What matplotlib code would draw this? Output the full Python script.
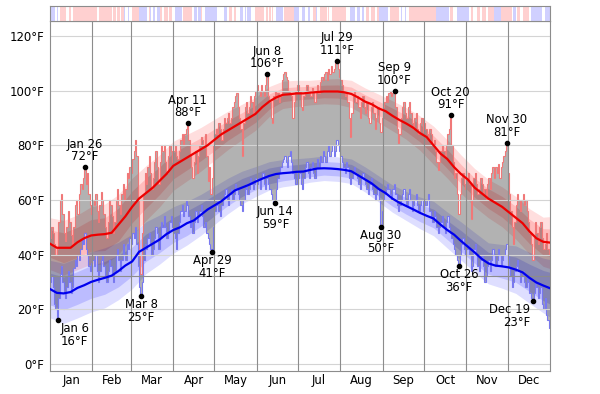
import datetime
import numpy as np
import matplotlib.pyplot as plt
from matplotlib.colors import to_rgb

plt.rcParams['font.family'] = ['DejaVu Sans']

MONTHS = ["Jan", "Feb", "Mar", "Apr", "May", "Jun",
          "Jul", "Aug", "Sep", "Oct", "Nov", "Dec"]
MONTH_DAYS = [31, 28, 31, 30, 31, 30, 31, 31, 30, 31, 30, 31]

# daily observed highs (deg F), one list line per month
HIGHS = [
    46, 50, 48, 44, 40, 42, 52, 60, 62, 55, 48, 45, 50, 56, 52, 47, 44, 50, 58, 60, 55, 62, 66, 64, 68, 72, 66, 70, 62, 58, 55,
    60, 58, 62, 56, 52, 58, 63, 60, 55, 50, 46, 52, 60, 58, 54, 48, 52, 60, 64, 58, 55, 62, 66, 60, 64, 70, 68, 72,
    70, 75, 78, 82, 76, 60, 40, 33, 48, 62, 70, 66, 72, 76, 70, 64, 68, 74, 78, 72, 66, 74, 80, 78, 80, 74, 70, 76, 80, 78, 74,
    78, 80, 76, 75, 78, 82, 84, 80, 84, 86, 88, 82, 76, 72, 68, 74, 78, 70, 76, 80, 83, 82, 80, 84, 76, 67, 72, 62, 68, 80,
    84, 86, 84, 88, 86, 82, 86, 90, 88, 90, 92, 88, 90, 94, 96, 98, 99, 94, 90, 86, 76, 88, 94, 96, 92, 94, 98, 96, 92, 98, 100,
    102, 100, 98, 102, 100, 98, 102, 106, 98, 96, 90, 88, 98, 100, 97, 99, 96, 98, 104, 106, 107, 105, 104, 100, 99, 98, 90, 96, 100, 102,
    102, 100, 94, 93, 98, 100, 102, 99, 100, 98, 101, 100, 96, 100, 102, 99, 103, 105, 104, 106, 107, 104, 108, 106, 109, 107, 108, 110, 111, 108, 105,
    104, 102, 100, 98, 100, 96, 90, 83, 92, 98, 100, 96, 98, 94, 90, 96, 98, 94, 92, 96, 90, 88, 94, 96, 92, 86, 90, 94, 88, 85, 90,
    94, 96, 98, 96, 99, 100, 98, 99, 100, 94, 86, 81, 84, 90, 94, 96, 92, 90, 94, 96, 92, 88, 86, 90, 92, 86, 84, 88, 90, 85,
    88, 86, 84, 82, 86, 84, 80, 82, 78, 74, 71, 74, 78, 80, 78, 76, 80, 84, 86, 91, 80, 74, 68, 70, 62, 55, 62, 68, 70, 66, 64,
    68, 70, 66, 53, 60, 68, 70, 66, 62, 64, 68, 66, 62, 64, 60, 66, 68, 64, 70, 72, 68, 72, 70, 73, 68, 72, 74, 76, 78, 81,
    70, 62, 56, 50, 44, 52, 58, 62, 60, 56, 60, 62, 58, 60, 56, 52, 48, 44, 38, 46, 52, 48, 44, 50, 52, 46, 42, 44, 48, 42, 40,
]

# daily observed lows (deg F)
LOWS = [
    30, 32, 28, 22, 20, 16, 24, 33, 36, 30, 26, 24, 28, 34, 30, 26, 28, 35, 38, 36, 40, 38, 42, 46, 44, 48, 42, 40, 36, 34, 37,
    38, 36, 40, 34, 30, 34, 38, 40, 36, 32, 30, 34, 38, 36, 33, 30, 34, 40, 42, 38, 34, 38, 44, 40, 38, 44, 42, 46,
    44, 48, 46, 50, 44, 36, 28, 25, 30, 38, 44, 42, 46, 48, 44, 40, 42, 46, 50, 48, 42, 46, 52, 50, 54, 50, 46, 48, 52, 54, 50,
    48, 46, 42, 48, 52, 56, 58, 54, 56, 60, 58, 54, 50, 52, 48, 52, 56, 52, 54, 56, 58, 54, 50, 52, 48, 46, 44, 42, 41, 50,
    56, 58, 60, 56, 54, 58, 60, 62, 64, 60, 58, 62, 64, 60, 62, 66, 64, 62, 60, 58, 56, 60, 64, 66, 62, 64, 68, 66, 64, 66, 68,
    66, 68, 64, 68, 70, 66, 64, 68, 66, 64, 62, 60, 59, 59, 64, 68, 70, 72, 74, 75, 76, 74, 72, 76, 78, 74, 70, 68, 66, 70,
    68, 70, 66, 64, 68, 72, 74, 70, 68, 72, 74, 70, 68, 72, 75, 72, 76, 74, 78, 76, 74, 78, 80, 76, 78, 80, 76, 78, 82, 80, 78,
    76, 74, 72, 70, 74, 72, 68, 66, 68, 70, 72, 70, 68, 66, 64, 68, 70, 68, 66, 64, 62, 66, 68, 64, 62, 60, 62, 64, 60, 50, 56,
    60, 62, 64, 66, 64, 62, 60, 64, 66, 62, 58, 56, 58, 60, 62, 64, 60, 58, 62, 64, 60, 56, 58, 60, 62, 58, 56, 58, 60, 56,
    60, 58, 60, 62, 56, 54, 52, 56, 54, 50, 48, 50, 52, 54, 50, 48, 52, 54, 50, 48, 46, 44, 42, 40, 38, 36, 40, 44, 46, 42, 40,
    42, 44, 40, 34, 36, 42, 44, 40, 36, 34, 38, 40, 36, 30, 32, 36, 38, 34, 38, 42, 40, 36, 38, 42, 40, 36, 38, 40, 42, 44,
    40, 36, 32, 28, 30, 34, 36, 38, 34, 30, 32, 34, 30, 28, 32, 30, 26, 24, 23, 26, 30, 28, 24, 26, 28, 22, 20, 24, 18, 16, 13,
]

# average daily high / low, every 5 days
NORM_DAYS = list(range(0, 361, 5)) + [365]
NORMAL_HI = [44, 42.5, 42.5, 42.5, 44.5, 46, 47, 47.3, 47.5, 48, 51, 54, 57.5, 60.5, 62.5,
             64.5, 67, 69.5, 72.5, 74, 75.5, 77, 78.5, 80, 82, 84, 85.5, 87, 88.5, 90,
             91.5, 94, 96, 97.5, 98.5, 98.7, 99, 99, 99.3, 99.5, 99.7, 99.7, 99.7, 99.4,
             98.8, 97.5, 96, 95, 93.5, 92.5, 90.8, 89.3, 88, 86.5, 84.5, 83, 80, 77, 75,
             72, 69.5, 67.5, 64.5, 62.5, 60.5, 59, 57.5, 55.5, 53.5, 51.5, 48.5, 46, 44.7, 44.4]
NORMAL_LO = [27.4, 26, 25.8, 26.3, 27.8, 28.8, 30, 30.8, 31.5, 32.3, 34, 36, 37.5, 41, 42.5,
             44, 45.5, 47.5, 49, 50, 51.5, 52.5, 54.5, 56.5, 58, 59.5, 61.5, 63.5, 64.5,
             65.5, 66.7, 67.8, 68.8, 69.5, 69.8, 70, 70.3, 70.4, 71, 71.5, 71.6, 71.5, 71.3,
             71, 70.5, 69, 67.5, 66, 64, 62.5, 60.5, 59, 57.8, 56.6, 55.3, 54.2, 53.2, 51,
             49, 47.3, 45, 42.9, 40.8, 38.5, 36.8, 36, 35.7, 35.3, 34.5, 33.5, 31.5, 29.8,
             28.7, 27.7]

# percentile band half widths (10-90 outer, 25-75 inner), every 10 days
BAND_DAYS = list(range(0, 361, 10)) + [365]
HI_OUTER = [9.5, 10, 10, 10.5, 11, 11, 10.5, 10, 9.5, 9, 8.5, 8, 7.5, 7, 6.5, 6, 5.5, 5, 4.8,
            4.5, 4.5, 4.7, 5, 5, 5.2, 5.5, 5.8, 6.3, 7, 7, 7, 7, 7, 7.3, 7.8, 8.3, 9, 9.5]
HI_INNER = [5, 5.5, 5.5, 5.8, 6, 6, 5.8, 5.5, 5, 4.8, 4.5, 4.2, 4, 3.6, 3.4, 3.1, 2.8, 2.5, 2.4,
            2.3, 2.3, 2.4, 2.5, 2.5, 2.6, 2.8, 3, 3.2, 3.5, 3.5, 3.5, 3.5, 3.6, 3.8, 4.2, 4.5, 4.8, 5]
LO_OUTER = [10.5, 11, 11, 11, 11, 10.5, 10, 9.5, 9, 8.5, 8, 7.5, 7, 6.5, 6, 5.5, 5.2, 5, 4.8,
            4.5, 4.5, 4.5, 4.5, 4.6, 4.8, 5, 5.3, 5.8, 6.3, 6.6, 7, 7.3, 7.5, 8, 8.7, 9.3, 10, 10.5]
LO_INNER = [5.8, 6, 6, 6, 6, 5.8, 5.3, 5, 4.8, 4.6, 4.5, 4.2, 3.8, 3.5, 3.3, 3, 2.9, 2.8, 2.6,
            2.5, 2.5, 2.5, 2.5, 2.5, 2.7, 2.8, 3, 3.2, 3.4, 3.5, 3.8, 4, 4, 4.3, 4.6, 5, 5.5, 5.8]

RECORD_HIGH_DATES = ["Jan 26", "Apr 11", "Jun 8", "Jul 29", "Sep 9", "Oct 20", "Nov 30"]
RECORD_LOW_DATES = ["Jan 6", "Mar 8", "Apr 29", "Jun 14", "Aug 30", "Oct 26", "Dec 19"]

# top strip: r = warmer than normal, b = colder, w = near normal (runs of days)
STRIP_RUNS = [
    ("b", 4), ("w", 1), ("b", 1), ("w", 1), ("r", 5), ("w", 2), ("r", 1), ("w", 2), ("r", 17),
    ("w", 2), ("r", 9), ("w", 1), ("r", 2), ("w", 1), ("r", 2), ("w", 1), ("r", 2), ("b", 1),
    ("w", 2), ("b", 1), ("w", 2), ("r", 5), ("b", 6), ("w", 1), ("r", 1), ("b", 1), ("w", 1),
    ("b", 2), ("w", 1), ("b", 2), ("r", 2), ("w", 1), ("r", 3), ("w", 1), ("r", 2), ("w", 2),
    ("b", 5), ("w", 1), ("r", 7), ("w", 1), ("b", 2), ("w", 1), ("b", 2), ("r", 1), ("w", 2),
    ("b", 9), ("w", 5), ("b", 2), ("w", 2), ("r", 2), ("w", 1), ("r", 2), ("w", 3), ("b", 2),
    ("w", 1), ("b", 1), ("w", 1), ("b", 3), ("w", 3), ("r", 6), ("w", 2), ("r", 1), ("w", 1),
    ("r", 1), ("w", 1), ("r", 1), ("w", 2), ("b", 5), ("w", 1), ("r", 7), ("b", 4), ("w", 2),
    ("b", 2), ("w", 2), ("b", 2), ("w", 2), ("r", 2), ("b", 1), ("w", 2), ("r", 5), ("w", 1),
    ("r", 1), ("w", 2), ("r", 10), ("w", 3), ("b", 4), ("w", 1), ("b", 2), ("w", 2), ("b", 1),
    ("w", 2), ("r", 2), ("w", 1), ("r", 3), ("w", 2), ("r", 1), ("b", 7), ("w", 1), ("r", 7),
    ("w", 1), ("b", 1), ("w", 2), ("b", 1), ("w", 2), ("r", 20), ("b", 9), ("w", 1), ("r", 2),
    ("w", 3), ("b", 9), ("w", 1), ("r", 2), ("w", 3), ("r", 2), ("w", 1), ("r", 3), ("w", 2),
    ("r", 4), ("b", 5), ("r", 8), ("w", 1), ("b", 2), ("w", 1), ("r", 2), ("w", 2), ("r", 5),
    ("w", 1), ("b", 8), ("w", 2), ("b", 4),
]
STRIP_COLORS = {"r": "#ffd0d0", "b": "#d0d0ff", "w": "#ffffff"}

GRID_GRAY = "#8c8c8c"
FS = 8.4


def day_index(label):
    return datetime.datetime.strptime(label + " 2001", "%b %d %Y").timetuple().tm_yday - 1


month_starts = np.concatenate([[0], np.cumsum(MONTH_DAYS)])
month_mids = month_starts[:-1] + np.array(MONTH_DAYS) / 2

fig = plt.figure(figsize=(6, 3.94), dpi=100)
ax = fig.add_axes([50 / 600, 23 / 394, 500 / 600, 350 / 394])
strip = fig.add_axes([50 / 600, 373 / 394, 500 / 600, 15 / 394])

# percentile bands
norm_hi = dict(zip(NORM_DAYS, NORMAL_HI))
norm_lo = dict(zip(NORM_DAYS, NORMAL_LO))
bh = np.array([norm_hi[d] for d in BAND_DAYS])
bl = np.array([norm_lo[d] for d in BAND_DAYS])
for center, outer, inner, col in [(bh, HI_OUTER, HI_INNER, "red"), (bl, LO_OUTER, LO_INNER, "blue")]:
    ax.fill_between(BAND_DAYS, center - np.array(outer), center + np.array(outer),
                    color=col, alpha=0.13, lw=0, zorder=1)
    ax.fill_between(BAND_DAYS, center - np.array(inner), center + np.array(inner),
                    color=col, alpha=0.15, lw=0, zorder=1)

# daily bars
edges = np.arange(len(HIGHS) + 1)
hi_step = np.append(HIGHS, HIGHS[-1])
lo_step = np.append(LOWS, LOWS[-1])
ax.fill_between(edges, lo_step, hi_step, step="post", color="black", alpha=0.3, lw=0, zorder=2)
ax.stairs(HIGHS, edges, baseline=None, color="#f07878", lw=0.8, zorder=2.2)
ax.stairs(LOWS, edges, baseline=None, color="#7878f0", lw=0.8, zorder=2.2)

# grid
for t in range(0, 121, 20):
    ax.axhline(t, color="#d4d4d4", lw=0.8, zorder=2.5)
ax.axhline(32, color=GRID_GRAY, lw=0.8, zorder=2.6)
for d in month_starts[1:-1]:
    ax.axvline(d, color=GRID_GRAY, lw=0.8, zorder=2.6)

# averages
ax.plot(NORM_DAYS, NORMAL_HI, color="#ee0000", lw=1.6, zorder=4)
ax.plot(NORM_DAYS, NORMAL_LO, color="#0000ee", lw=1.6, zorder=4)

# record labels
for label in RECORD_HIGH_DATES:
    i = day_index(label)
    x, y = i + 0.5, HIGHS[i]
    ax.plot(x, y, "o", color="black", ms=3, zorder=6)
    ax.annotate(label, (x, y), xytext=(0, 23), textcoords="offset pixels",
                ha="center", va="center", fontsize=FS, zorder=7)
    ax.annotate(f"{y}°F", (x, y), xytext=(0, 10.5), textcoords="offset pixels",
                ha="center", va="center", fontsize=FS, zorder=7)
for label in RECORD_LOW_DATES:
    i = day_index(label)
    x, y = i + 0.5, LOWS[i]
    ax.plot(x, y, "o", color="black", ms=3, zorder=6)
    if i < 20:
        ha, dx = "left", 3
    elif i > 345:
        ha, dx = "right", -3
    else:
        ha, dx = "center", 0
    ax.annotate(label, (x, y), xytext=(dx, -8.5), textcoords="offset pixels",
                ha=ha, va="center", fontsize=FS, zorder=7)
    ax.annotate(f"{y}°F", (x, y), xytext=(dx, -21.5), textcoords="offset pixels",
                ha=ha, va="center", fontsize=FS, zorder=7)

ax.set_xlim(0, 365)
ax.set_ylim(-2.6, 125.5)
ax.set_yticks(range(0, 121, 20))
ax.set_yticklabels([f"{t}°F" for t in range(0, 121, 20)])
ax.set_xticks(month_starts)
ax.set_xticklabels([])
ax.set_xticks(month_mids, minor=True)
ax.set_xticklabels(MONTHS, minor=True)
ax.tick_params(axis="both", which="both", length=0, labelsize=FS)
ax.tick_params(axis="y", pad=4)
ax.tick_params(axis="x", which="minor", pad=2)
for sp in ax.spines.values():
    sp.set_color(GRID_GRAY)

# top strip, one cell per day
codes = "".join(code * n for code, n in STRIP_RUNS)
strip_rgb = np.array([[to_rgb(STRIP_COLORS[c]) for c in codes]])
strip.imshow(strip_rgb, extent=(0, 365, 0, 1), aspect="auto", interpolation="nearest")
strip.set_xlim(0, 365)
strip.set_ylim(0, 1)
strip.set_xticks([])
strip.set_yticks([])
for sp in strip.spines.values():
    sp.set_color(GRID_GRAY)

fig.savefig("out.png", dpi=100)
